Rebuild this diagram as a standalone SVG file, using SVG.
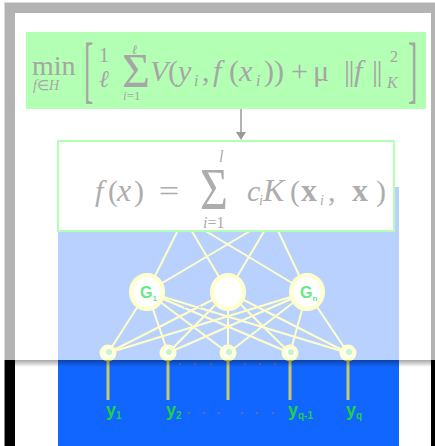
<svg xmlns="http://www.w3.org/2000/svg" width="435" height="446" viewBox="0 0 435 446">
<defs>
<style>
.ser{font-family:"Liberation Serif","Times New Roman",serif}
.it{font-style:italic}
.f1{fill:#a6a6a6}
.f2{fill:#adadad}
.ml{stroke:#ffff40;stroke-width:2;fill:none}
.stem{stroke:#c8c870;stroke-width:3}
.lab{font-family:"Liberation Sans",Arial,sans-serif;font-weight:bold;fill:#22d044}
.dot{fill:#6070a0}
.hn{fill:#ffffff;stroke:#ffff50;stroke-width:4}
.in{fill:#ffffdd;stroke:#ffff50;stroke-width:3}
.inc{fill:#33dd55}
.g{font-family:"Liberation Sans",Arial,sans-serif;font-weight:bold;fill:#66e888}
</style>
<linearGradient id="sh" x1="0" y1="0" x2="0" y2="1">
<stop offset="0" stop-color="#000" stop-opacity="0.35"/>
<stop offset="1" stop-color="#000" stop-opacity="0"/>
</linearGradient>
</defs>
<rect width="435" height="446" fill="#fff"/>
<g id="frame">
<rect x="4.5" y="2.5" width="440" height="450" fill="none" stroke="#888" stroke-width="1"/>
<rect x="5" y="3" width="10" height="443" fill="#000"/>
<rect x="5" y="3" width="430" height="10" fill="#000"/>
<rect x="431" y="3" width="4" height="443" fill="#000"/>
</g>
<rect id="panel" x="58" y="187" width="341" height="259" fill="#1166ff"/>
<g id="connectors">
<line class="ml" x1="184" y1="218" x2="147" y2="292"/>
<line class="ml" x1="184" y1="218" x2="228" y2="292"/>
<line class="ml" x1="184" y1="218" x2="307" y2="292"/>
<line class="ml" x1="272" y1="218" x2="147" y2="292"/>
<line class="ml" x1="272" y1="218" x2="228" y2="292"/>
<line class="ml" x1="272" y1="218" x2="307" y2="292"/>
<line class="ml" x1="147" y1="292" x2="108" y2="353"/>
<line class="ml" x1="147" y1="292" x2="168" y2="353"/>
<line class="ml" x1="147" y1="292" x2="228" y2="353"/>
<line class="ml" x1="147" y1="292" x2="290" y2="353"/>
<line class="ml" x1="147" y1="292" x2="348" y2="353"/>
<line class="ml" x1="228" y1="292" x2="108" y2="353"/>
<line class="ml" x1="228" y1="292" x2="168" y2="353"/>
<line class="ml" x1="228" y1="292" x2="228" y2="353"/>
<line class="ml" x1="228" y1="292" x2="290" y2="353"/>
<line class="ml" x1="228" y1="292" x2="348" y2="353"/>
<line class="ml" x1="307" y1="292" x2="108" y2="353"/>
<line class="ml" x1="307" y1="292" x2="168" y2="353"/>
<line class="ml" x1="307" y1="292" x2="228" y2="353"/>
<line class="ml" x1="307" y1="292" x2="290" y2="353"/>
<line class="ml" x1="307" y1="292" x2="348" y2="353"/>
<line class="stem" x1="108" y1="360" x2="108" y2="400"/>
<line class="stem" x1="168" y1="360" x2="168" y2="400"/>
<line class="stem" x1="228" y1="360" x2="228" y2="400"/>
<line class="stem" x1="290" y1="360" x2="290" y2="400"/>
<line class="stem" x1="348" y1="360" x2="348" y2="400"/>
</g>
<g id="hidden-nodes">
<ellipse id="h1" class="hn" cx="147" cy="292" rx="16" ry="17"/>
<ellipse id="h2" class="hn" cx="228" cy="292" rx="16" ry="17"/>
<ellipse id="h3" class="hn" cx="307" cy="292" rx="16" ry="17"/>
</g>
<g id="input-nodes">
<g id="n1"><circle class="in" cx="108" cy="353" r="7"/><circle class="inc" cx="109" cy="352" r="3"/></g>
<g id="n2"><circle class="in" cx="168" cy="353" r="7"/><circle class="inc" cx="169" cy="352" r="3"/></g>
<g id="n3"><circle class="in" cx="228" cy="353" r="7"/><circle class="inc" cx="229" cy="352" r="3"/></g>
<g id="n4"><circle class="in" cx="290" cy="353" r="7"/><circle class="inc" cx="291" cy="352" r="3"/></g>
<g id="n5"><circle class="in" cx="348" cy="353" r="7"/><circle class="inc" cx="349" cy="352" r="3"/></g>
</g>
<g id="dots">
<circle class="dot" cx="170" cy="307" r="1.2"/><circle class="dot" cx="185" cy="307" r="1.2"/><circle class="dot" cx="200" cy="307" r="1.2"/>
<circle class="dot" cx="250" cy="307" r="1.2"/><circle class="dot" cx="265" cy="307" r="1.2"/><circle class="dot" cx="280" cy="307" r="1.2"/>
<circle class="dot" cx="180" cy="364" r="1.2"/><circle class="dot" cx="195" cy="364" r="1.2"/><circle class="dot" cx="211" cy="364" r="1.2"/>
<circle class="dot" cx="245" cy="364" r="1.2"/><circle class="dot" cx="260" cy="364" r="1.2"/><circle class="dot" cx="275" cy="364" r="1.2"/>
<circle class="dot" cx="189" cy="413" r="1.2"/><circle class="dot" cx="204" cy="413" r="1.2"/><circle class="dot" cx="219" cy="413" r="1.2"/>
<circle class="dot" cx="242" cy="413" r="1.2"/><circle class="dot" cx="257" cy="413" r="1.2"/><circle class="dot" cx="273" cy="413" r="1.2"/>
</g>
<rect id="veil" x="0" y="0" width="435" height="360" fill="#fff" opacity="0.7"/>
<rect x="15" y="360" width="416" height="7" fill="url(#sh)"/>
<g id="g-labels">
<text class="g" x="140" y="298" font-size="16">G<tspan font-size="8" dy="3">1</tspan></text>
<text class="g" x="300" y="298" font-size="16">G<tspan font-size="8" dy="3">n</tspan></text>
</g>
<g id="labels">
<text class="lab" x="106" y="416" font-size="18">y<tspan font-size="10" dy="3">1</tspan></text>
<text class="lab" x="166" y="416" font-size="18">y<tspan font-size="10" dy="3">2</tspan></text>
<text class="lab" x="288" y="416" font-size="18">y<tspan font-size="10" dy="3">q-1</tspan></text>
<text class="lab" x="346" y="416" font-size="18">y<tspan font-size="10" dy="3">q</tspan></text>
</g>
<g id="objective">
<rect x="26" y="32" width="400" height="77" fill="#b3ffb3"/>
<g class="ser f1">
<text x="32" y="75" font-size="28">min</text>
<text x="33" y="90" font-size="14"><tspan class="it">f</tspan>∈<tspan class="it">H</tspan></text>
<text x="0" y="0" font-size="28" transform="translate(84,94) scale(1,2.68)">[</text>
<text x="99" y="62" font-size="20">1</text>
<text x="99" y="87" font-size="24" class="it">ℓ</text>
<text x="132" y="54" font-size="13" class="it">ℓ</text>
<text x="122" y="87" font-size="48">Σ</text>
<text x="123" y="100" font-size="13"><tspan class="it">i</tspan>=1</text>
<text x="150" y="81" font-size="30" class="it">V</text>
<text x="168" y="81" font-size="30">(</text>
<text x="178" y="81" font-size="30" class="it">y</text>
<text x="194" y="86" font-size="16" class="it">i</text>
<text x="202" y="81" font-size="30">,</text>
<text x="213" y="81" font-size="30" class="it">f</text>
<text x="229" y="81" font-size="30">(</text>
<text x="239" y="81" font-size="30" class="it">x</text>
<text x="256" y="86" font-size="16" class="it">i</text>
<text x="264" y="81" font-size="30">))</text>
<text x="291" y="81" font-size="30">+</text>
<text x="313" y="81" font-size="30">μ</text>
<text x="344" y="81" font-size="30" letter-spacing="-1.5">||</text>
<text x="354" y="81" font-size="30" class="it">f</text>
<text x="372" y="81" font-size="30" letter-spacing="-1.5">||</text>
<text x="390" y="62" font-size="16">2</text>
<text x="387" y="88" font-size="16" class="it">K</text>
<text x="0" y="0" font-size="28" transform="translate(408,94) scale(1,2.68)">]</text>
</g>
</g>
<g id="arrow">
<line x1="241" y1="109" x2="241" y2="133" stroke="#999" stroke-width="1.5"/>
<polygon points="236,132 246,132 241,140" fill="#999"/>
</g>
<g id="expansion">
<rect x="58" y="141" width="336" height="90" fill="#fff" stroke="#b3ffb3" stroke-width="2"/>
<g class="ser f2">
<text x="95" y="201" font-size="30" class="it">f</text>
<text x="108" y="201" font-size="30">(</text>
<text x="117" y="201" font-size="32" class="it">x</text>
<text x="134" y="201" font-size="30">)</text>
<text x="159" y="201" font-size="29" transform="translate(-40,0) scale(1.25,1)">=</text>
<text x="219" y="162" font-size="16" class="it">l</text>
<text x="200" y="209" font-size="60" transform="translate(40,0) scale(0.8,1)">Σ</text>
<text x="203" y="228" font-size="16"><tspan class="it">i</tspan>=1</text>
<text x="247" y="201" font-size="30" class="it">c</text>
<text x="259" y="205" font-size="14" class="it">i</text>
<text x="263" y="201" font-size="32" class="it">K</text>
<text x="290" y="201" font-size="30">(</text>
<text x="301" y="201" font-size="32" font-weight="bold">x</text>
<text x="320" y="205" font-size="14" class="it">i</text>
<text x="328" y="201" font-size="30">,</text>
<text x="352" y="201" font-size="32" font-weight="bold">x</text>
<text x="376" y="201" font-size="30">)</text>
</g>
</g>
</svg>
